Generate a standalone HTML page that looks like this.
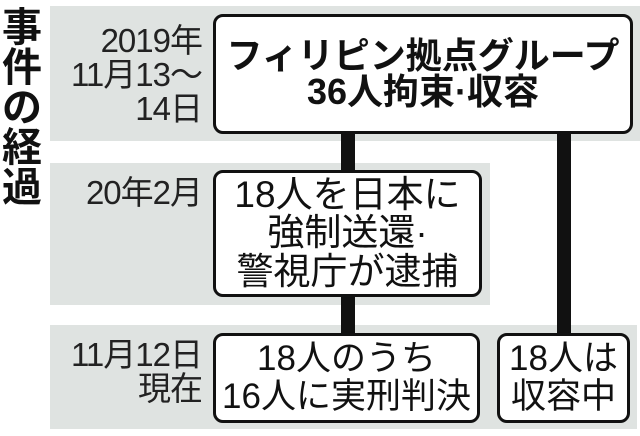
<!DOCTYPE html>
<html><head><meta charset="utf-8"><style>
body{margin:0;width:640px;height:436px;background:#fff;position:relative;overflow:hidden;font-family:"Liberation Sans","Noto Sans CJK JP",sans-serif;color:#111}
.band{position:absolute;background:#dfe3e1}
.box{position:absolute;background:#fff;border:3px solid #111;border-radius:10px;box-sizing:border-box;display:flex;flex-direction:column;align-items:center;justify-content:center;text-align:center;line-height:1.13;white-space:nowrap}
.v{position:absolute;background:#111;width:14px}
.lab{position:absolute;right:438px;text-align:right;font-size:33px;line-height:34px;color:#222;white-space:nowrap;letter-spacing:-1px}
.title{position:absolute;left:0;top:4px;width:44px;font-size:40px;font-weight:bold;line-height:40px;text-align:center;font-family:"Noto Sans CJK JP",sans-serif}
</style></head><body>
<div class="band" style="left:50px;top:6px;width:590px;height:135px"></div>
<div class="band" style="left:50px;top:163px;width:440px;height:142px"></div>
<div class="band" style="left:50px;top:325px;width:587px;height:104px"></div>
<div class="title">事<br>件<br>の<br>経<br>過</div>
<div class="v" style="left:341px;top:130px;height:45px"></div>
<div class="v" style="left:341px;top:294px;height:42px"></div>
<div class="v" style="left:557px;top:130px;height:206px"></div>
<div class="lab" style="top:24px">2019年<br>11月13～<br>14日</div>
<div class="lab" style="top:176px">20年2月</div>
<div class="lab" style="top:338px">11月12日<br>現在</div>
<div class="box" style="left:213px;top:14px;width:420px;height:120px;font-size:36px;font-weight:bold;line-height:1.0">フィリピン拠点グループ<br>36人拘束·収容</div>
<div class="box" style="left:213px;top:170px;width:269px;height:127px;font-size:37px;line-height:1.03">18人を日本に<br>強制送還·<br>警視庁が逮捕</div>
<div class="box" style="left:213px;top:333px;width:267px;height:90px;font-size:35px;line-height:1.08">18人のうち<br>16人に実刑判決</div>
<div class="box" style="left:497px;top:333px;width:133px;height:90px;font-size:35px;line-height:1.08">18人は<br>収容中</div>
</body></html>
